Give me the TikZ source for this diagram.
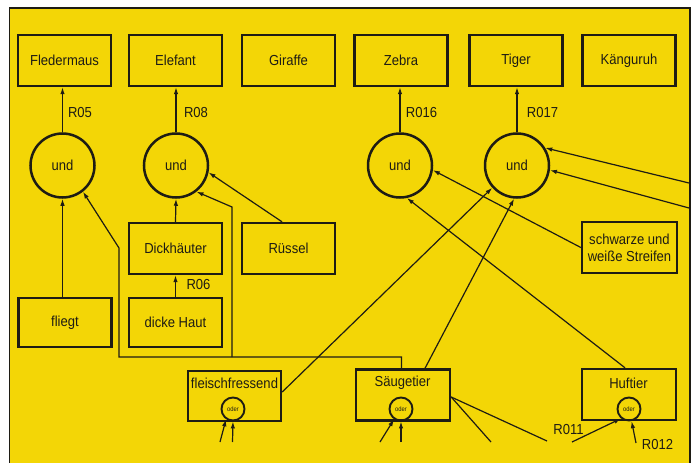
\documentclass[tikz,border=0pt]{standalone}
\usepackage{fontspec}
\setmainfont{Liberation Sans}[FakeStretch=0.9]
\usetikzlibrary{arrows.meta}
\definecolor{bgyellow}{RGB}{243,214,6}
\definecolor{ink}{RGB}{30,28,20}
\begin{document}
\begin{tikzpicture}[x=1pt,y=-1pt,
  box/.style={draw=ink, line width=2.4pt, minimum width=93pt, minimum height=51pt, inner sep=0pt, font=\fontsize{14.5}{17}\selectfont, text=ink, align=center},
  und/.style={circle, draw=ink, line width=2.5pt, minimum size=64pt, inner sep=0pt, font=\fontsize{14.5}{16}\selectfont, text=ink},
  oder/.style={circle, draw=ink, line width=1.9pt, minimum size=23pt, inner sep=0pt, font=\fontsize{6.5}{7}\selectfont, text=ink},
  lbl/.style={font=\fontsize{14.5}{16}\selectfont, text=ink, inner sep=0pt},
  con/.style={draw=ink, line width=1.2pt},
  arr/.style={con, -{Latex[length=7pt,width=4.5pt]}},
]
\useasboundingbox (0,0) rectangle (697,463);
\fill[white] (0,0) rectangle (697,463);
\fill[bgyellow] (9.5,8) rectangle (691,463);
\draw[ink, line width=1.8pt] (9.5,463) -- (9.5,8) -- (690,8) -- (690,463);

% top row
\node[box] (fled) at (64.5,60.5) {Fledermaus};
\node[box] (elef) at (175.5,60.5) {Elefant};
\node[box] (gir) at (288.5,60.5) {Giraffe};
\node[box] (zeb) at (401,60.5) {Zebra};
\node[box] (tig) at (516,60.5) {Tiger};
\node[box] (kan) at (629,60.5) {Känguruh};

% und circles
\node[und] (u1) at (62.5,165.5) {und};
\node[und] (u2) at (176,165.5) {und};
\node[und] (u3) at (400,165.5) {und};
\node[und] (u4) at (517,165.5) {und};

% rule labels
\node[lbl] (r05) at (80,113) {R05};
\node[lbl] (r08) at (196,113) {R08};
\node[lbl] (r016) at (421.5,113) {R016};
\node[lbl] (r017) at (542.5,113) {R017};
\node[lbl] (r06) at (198.5,285) {R06};
\node[lbl] (r011) at (568.5,430) {R011};
\node[lbl] (r012) at (657.5,445) {R012};

% second level
\node[box, minimum height=49pt] (fl) at (65,322.5) {fliegt};
\node[box] (dh) at (175.5,248.5) {Dickhäuter};
\node[box, minimum height=49pt] (haut) at (175.5,322.5) {dicke Haut};
\node[box] (ru) at (288.5,248.5) {Rüssel};
\node[box, minimum width=95pt] (sw) at (629.5,247.5) {schwarze und\\weiße Streifen};

% bottom boxes
\node[box, minimum height=50pt] (ff) at (234.5,396) {};
\node[lbl] (fft) at (234.5,383) {fleischfressend};
\node[oder] (o1) at (233,409) {oder};
\node[box, minimum width=94pt] (sg) at (403,395) {};
\node[lbl] (sgt) at (402.5,383) {Säugetier};
\node[oder] (o2) at (401,409) {oder};
\node[box, minimum width=94pt] (hf) at (629,394.5) {};
\node[lbl] (hft) at (628.5,383) {Huftier};
\node[oder] (o3) at (629,409) {oder};

% rules to animals
\draw[arr] (u1.north) -- (u1.north |- fled.south);
\draw[arr] (u2.north) -- (u2.north |- elef.south);
\draw[arr] (u3.north) -- (u3.north |- zeb.south);
\draw[arr] (u4.north) -- (u4.north |- tig.south);

% inputs of und circles
\draw[arr] (fl.north -| u1.south) -- (u1.south);
\draw[arr] (haut.north) -- (dh.south);
\draw[arr] (dh.north) -- (u2.south);
\draw[arr] ([xshift=-6.5pt]ru.north) -- (u2.-12);

\coordinate (k1) at (119,357);
\coordinate (k2) at (119,248);
\coordinate (k3) at (232,357);
\coordinate (k4) at (232,207);
\draw[arr] ([xshift=-1.5pt]sg.north) |- (k1) -- (k2) -- (u1.-52);
\draw[arr] (k3) -- (k4) -- (u2.-52);

\draw[arr] ([yshift=4pt]ff.east) -- (u4.222);
\draw[arr] ([xshift=22pt]sg.north) -- (u4.265);
\draw[arr] ([xshift=-4pt]hf.north) -- (u3.282);
\draw[arr] (sw.west) -- (u3.-8);

\coordinate (ra) at (689,183);
\coordinate (rb) at (689,208);
\draw[arr] (ra) -- (u4.32);
\draw[arr] (rb) -- (u4.-8);

% inputs from below
\coordinate (a1) at (220,442);
\coordinate (a2) at (232.5,442);
\coordinate (b1) at (380,442);
\coordinate (b2) at (401,442);
\coordinate (c1) at (572,442);
\coordinate (c2) at (636,443);
\draw[arr] (a1) -- (o1.-124);
\draw[arr] (a2) -- (o1.south);
\draw[arr] (b1) -- (o2.-124);
\draw[arr] (b2) -- (o2.south);
\draw[arr] (c1) -- (o3.-130);
\draw[arr] (c2) -- (o3.-78);

% outgoing from Saeugetier
\coordinate (s1) at (491,442);
\coordinate (s2) at (547,441);
\draw[con] ([yshift=-2pt]sg.east) -- (s1);
\draw[con] ([yshift=-2pt]sg.east) -- (s2);
\end{tikzpicture}
\end{document}
